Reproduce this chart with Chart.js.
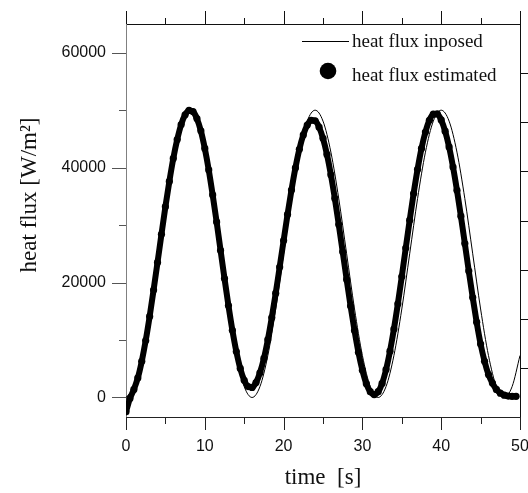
<!DOCTYPE html>
<html>
<head>
<meta charset="utf-8">
<script src="https://cdn.jsdelivr.net/npm/chart.js@4.4.1/dist/chart.umd.min.js"></script>
<style>
    html, body { margin: 0; padding: 0; background: #fff; }
    #wrap { width: 528px; height: 493px; }
</style>
</head>
<body>
<div id="wrap"><canvas id="fluxChart" width="528" height="493"></canvas></div>
<script>
// Imposed heat flux, read every 1 s
const imposedTime = [0, 1, 2, 3, 4, 5, 6, 7, 8, 9, 10, 11, 12, 13, 14, 15, 16, 17, 18, 19, 20,
    21, 22, 23, 24, 25, 26, 27, 28, 29, 30, 31, 32, 33, 34, 35, 36, 37, 38, 39, 40,
    41, 42, 43, 44, 45, 46, 47, 48, 49, 50];
const imposedFlux = [0, 1900, 7300, 15400, 25000, 34600, 42700, 48100, 50000, 48100, 42700,
    34600, 25000, 15400, 7300, 1900, 0, 1900, 7300, 15400, 25000,
    34600, 42700, 48100, 50000, 48100, 42700, 34600, 25000, 15400, 7300,
    1900, 0, 1900, 7300, 15400, 25000, 34600, 42700, 48100, 50000,
    48100, 42700, 34600, 25000, 15400, 7300, 1900, 0, 1900, 7300];

// Estimated heat flux, read every 0.5 s
const estimatedTime = [0, 0.5, 1, 1.5, 2, 2.5, 3, 3.5, 4, 4.5, 5, 5.5, 6, 6.5, 7, 7.5, 8, 8.5, 9, 9.5,
    10, 10.5, 11, 11.5, 12, 12.5, 13, 13.5, 14, 14.5, 15, 15.5, 16, 16.5, 17, 17.5, 18, 18.5, 19, 19.5,
    20, 20.5, 21, 21.5, 22, 22.5, 23, 23.5, 24, 24.5, 25, 25.5, 26, 26.5, 27, 27.5, 28, 28.5, 29, 29.5,
    30, 30.5, 31, 31.5, 32, 32.5, 33, 33.5, 34, 34.5, 35, 35.5, 36, 36.5, 37, 37.5, 38, 38.5, 39, 39.5,
    40, 40.5, 41, 41.5, 42, 42.5, 43, 43.5, 44, 44.5, 45, 45.5, 46, 46.5, 47, 47.5, 48, 48.5, 49, 49.5];
const estimatedFlux = [-2500, -200, 1400, 3400, 6300, 9900, 14100, 18700, 23500, 28400,
    33200, 37600, 41600, 44900, 47500, 49200, 49950, 49750, 48550, 46400,
    43350, 39600, 35250, 30550, 25600, 20700, 16000, 11700, 8000, 5050,
    3000, 1900, 1750, 2600, 4300, 6800, 10050, 13900, 18150, 22700,
    27300, 31850, 36100, 39950, 43200, 45700, 47400, 48250, 48150, 47050,
    45100, 42300, 38750, 34650, 30100, 25350, 20550, 15900, 11650, 7850,
    4750, 2400, 1000, 500, 1000, 2450, 4850, 8050, 11900, 16300,
    21050, 26000, 30850, 35500, 39700, 43350, 46200, 48250, 49300, 49350,
    48300, 46350, 43600, 40100, 36050, 31550, 26800, 22000, 17400, 13100,
    9300, 6300, 4000, 2500, 1400, 750, 400, 250, 200, 200];

// Axis ranges and ticks
const xMin = 0, xMax = 50;
const yMin = -3400, yMax = 65000;
const xMajorTicks = [0, 10, 20, 30, 40, 50];
const xMinorTicks = [5, 15, 25, 35, 45];
const yMajorTicks = [0, 20000, 40000, 60000];
const yMinorTicks = [10000, 30000, 50000];
const rightTicks = [1, 2, 3, 4, 5, 6, 7];

const sansFont = "'Liberation Sans', Arial, sans-serif";
const serifFont = "'Liberation Serif', 'Times New Roman', serif";

function toPoints(xs, ys) {
    return xs.map((t, i) => ({ x: t, y: ys[i] }));
}

// tick marks of differing length (Chart.js has one tickLength per axis)
const tickMarks = {
    id: 'tickMarks',
    afterDraw(chart) {
        const ctx = chart.ctx;
        const area = chart.chartArea;
        const { x, y, yRight } = chart.scales;
        const seg = (x1, y1, x2, y2, color) => {
            ctx.strokeStyle = color;
            ctx.beginPath();
            ctx.moveTo(x1, y1);
            ctx.lineTo(x2, y2);
            ctx.stroke();
        };
        ctx.save();
        ctx.lineWidth = 1;
        xMajorTicks.forEach(v => {
            const px = Math.round(x.getPixelForValue(v)) + 0.5;
            seg(px, area.bottom, px, area.bottom + 13, '#222');
            seg(px, area.top, px, area.top - 13, '#111');
        });
        xMinorTicks.forEach(v => {
            const px = Math.round(x.getPixelForValue(v)) + 0.5;
            seg(px, area.bottom, px, area.bottom + 7, '#222');
            seg(px, area.top, px, area.top - 6, '#111');
        });
        yMajorTicks.forEach(v => {
            const py = Math.round(y.getPixelForValue(v)) + 0.5;
            seg(area.left, py, area.left - 14, py, '#555');
        });
        yMinorTicks.forEach(v => {
            const py = Math.round(y.getPixelForValue(v)) + 0.5;
            seg(area.left, py, area.left - 7, py, '#555');
        });
        rightTicks.forEach(v => {
            const py = Math.round(yRight.getPixelForValue(v)) + 0.5;
            seg(area.right, py, area.right + 10, py, '#111');
        });
        ctx.restore();
    }
};

// axis titles and the legend inside the plot
const labelsAndLegend = {
    id: 'labelsAndLegend',
    afterDraw(chart) {
        const ctx = chart.ctx;
        const area = chart.chartArea;
        const sets = chart.data.datasets;
        ctx.save();
        ctx.fillStyle = '#111';

        ctx.font = '23px ' + serifFont;
        ctx.textAlign = 'center';
        ctx.textBaseline = 'alphabetic';
        ctx.fillText('time  [s]', (area.left + area.right) / 2, 484);

        ctx.save();
        ctx.translate(36, 195);
        ctx.rotate(-Math.PI / 2);
        ctx.fillText('heat flux [W/m\u00B2]', 0, 0);
        ctx.restore();

        // legend
        ctx.font = '19px ' + serifFont;
        ctx.textAlign = 'left';
        ctx.textBaseline = 'alphabetic';
        ctx.strokeStyle = '#000';
        ctx.lineWidth = 1;
        ctx.beginPath();
        ctx.moveTo(302, 41.5);
        ctx.lineTo(349, 41.5);
        ctx.stroke();
        ctx.fillText(sets[0].label, 352, 47);

        ctx.fillStyle = '#000';
        ctx.beginPath();
        ctx.arc(328, 71, 8.3, 0, Math.PI * 2);
        ctx.fill();
        ctx.fillStyle = '#111';
        ctx.fillText(sets[1].label, 352, 81);
        ctx.restore();
    }
};

new Chart(document.getElementById('fluxChart'), {
    type: 'line',
    data: {
        datasets: [{
            label: 'heat flux inposed',
            data: toPoints(imposedTime, imposedFlux),
            borderColor: '#000',
            borderWidth: 1,
            pointRadius: 0,
            cubicInterpolationMode: 'monotone',
            order: 2
        }, {
            label: 'heat flux estimated',
            data: toPoints(estimatedTime, estimatedFlux),
            borderColor: '#000',
            borderWidth: 6,
            pointRadius: 3.6,
            pointBackgroundColor: '#000',
            pointBorderWidth: 0,
            cubicInterpolationMode: 'monotone',
            order: 1
        }]
    },
    options: {
        responsive: false,
        animation: false,
        layout: { padding: 0 },
        plugins: {
            legend: { display: false },
            tooltip: { enabled: false }
        },
        scales: {
            x: {
                type: 'linear',
                position: 'bottom',
                min: xMin,
                max: xMax,
                afterBuildTicks: s => { s.ticks = xMajorTicks.map(v => ({ value: v })); },
                afterFit: s => { s.height = 76; s.paddingLeft = 0; s.paddingRight = 0; },
                grid: { display: false, drawTicks: false },
                border: { display: true, color: '#222', width: 1 },
                ticks: {
                    padding: 20,
                    color: '#111',
                    autoSkip: false,
                    maxRotation: 0,
                    font: { family: sansFont, size: 16 },
                    callback: v => String(v)
                }
            },
            xTop: {
                type: 'linear',
                position: 'top',
                min: xMin,
                max: xMax,
                afterFit: s => { s.height = 24; s.paddingLeft = 0; s.paddingRight = 0; },
                grid: { display: false, drawTicks: false },
                border: { display: true, color: '#111', width: 1 },
                ticks: { display: false }
            },
            y: {
                type: 'linear',
                position: 'left',
                min: yMin,
                max: yMax,
                afterBuildTicks: s => { s.ticks = yMajorTicks.map(v => ({ value: v })); },
                afterFit: s => { s.width = 126; s.paddingTop = 0; s.paddingBottom = 0; },
                grid: { display: false, drawTicks: false },
                border: { display: true, color: '#808080', width: 1 },
                ticks: {
                    padding: 20,
                    color: '#111',
                    font: { family: sansFont, size: 16 },
                    callback: v => String(v)
                }
            },
            yRight: {
                type: 'linear',
                position: 'right',
                min: 0,
                max: 8,
                afterFit: s => { s.width = 8; s.paddingTop = 0; s.paddingBottom = 0; },
                grid: { display: false, drawTicks: false },
                border: { display: true, color: '#111', width: 1 },
                ticks: { display: false }
            }
        }
    },
    plugins: [tickMarks, labelsAndLegend]
});
</script>
</body>
</html>
